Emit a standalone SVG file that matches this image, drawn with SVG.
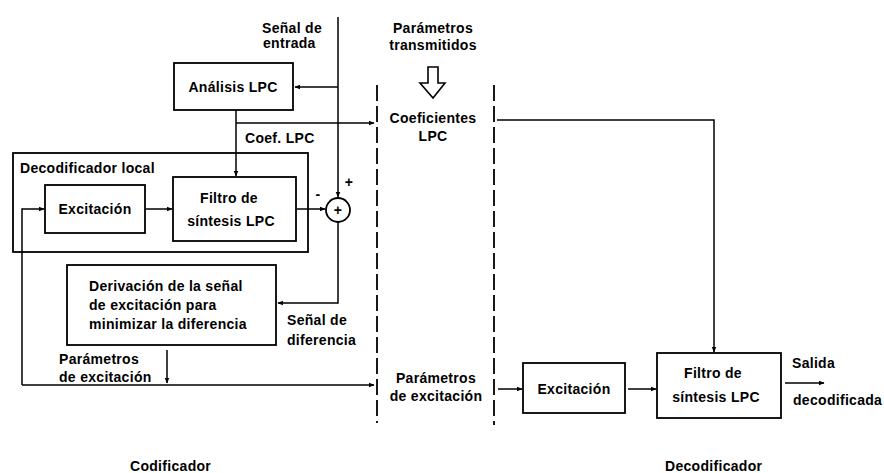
<svg xmlns="http://www.w3.org/2000/svg" width="884" height="473" viewBox="0 0 884 473">
<style>
text{font-family:"Liberation Sans",Arial,sans-serif;font-weight:bold;font-size:14px;fill:#000;letter-spacing:0.3px}
.c{text-anchor:middle}
.box{fill:none;stroke:#000;stroke-width:1.8}
.ln{fill:none;stroke:#000;stroke-width:1.5}
.dash{fill:none;stroke:#000;stroke-width:1.8;stroke-dasharray:16 5}
</style>
<defs>
<marker id="ah" viewBox="0 0 10 10" refX="9" refY="5" markerWidth="6" markerHeight="6" markerUnits="userSpaceOnUse" orient="auto">
<path d="M0,1 L10,5 L0,9 z" fill="#000"/>
</marker>
</defs>
<rect width="884" height="473" fill="#fff"/>

<g id="connectors">
<path class="ln" d="M338,17 V197" marker-end="url(#ah)"/>
<path class="ln" d="M338,87 H295" marker-end="url(#ah)"/>
<path class="ln" d="M236,110 V176" marker-end="url(#ah)"/>
<path class="ln" d="M236,123 H374" marker-end="url(#ah)"/>
<path class="ln" d="M146,209 H172" marker-end="url(#ah)"/>
<path class="ln" d="M297,209 H325" marker-end="url(#ah)"/>
<path class="ln" d="M338,222 V303 H278" marker-end="url(#ah)"/>
<path class="ln" d="M167,350 V383" marker-end="url(#ah)"/>
<path class="ln" d="M22,385 V209 H44" marker-end="url(#ah)"/>
<path class="ln" d="M22,385 H374" marker-end="url(#ah)"/>
<path class="ln" d="M497,120 H714 V352" marker-end="url(#ah)"/>
<path class="ln" d="M498,389 H522" marker-end="url(#ah)"/>
<path class="ln" d="M628,389 H656" marker-end="url(#ah)"/>
<path class="ln" d="M785,383 H824" marker-end="url(#ah)"/>
<path class="dash" d="M377,85 V423"/>
<path class="dash" d="M494,85 V425"/>
<path fill="#fff" stroke="#000" stroke-width="1.6" d="M428,67 H438 V83 H445 L433,98 L420,83 H428 Z"/>
</g>

<g id="input-label">
<text x="262" y="33">Señal de</text>
<text x="263" y="48">entrada</text>
</g>

<g id="analisis">
<rect class="box" x="174" y="63" width="119" height="47"/>
<text class="c" x="233" y="92">Análisis LPC</text>
</g>
<text x="245" y="143">Coef. LPC</text>

<g id="decodificador-local">
<rect class="box" x="13" y="153" width="295" height="99"/>
<text x="20" y="173">Decodificador local</text>
</g>

<g id="excitacion-enc">
<rect class="box" x="45" y="185" width="100" height="48"/>
<text class="c" x="95" y="214">Excitación</text>
</g>

<g id="filtro-enc">
<rect class="box" x="173" y="177" width="123" height="64"/>
<text class="c" x="229" y="203">Filtro de</text>
<text class="c" x="231" y="226">síntesis LPC</text>
</g>

<g id="sumador">
<circle cx="338" cy="210" r="12" fill="none" stroke="#000" stroke-width="1.8"/>
<text class="c" x="338" y="215">+</text>
<text class="c" x="349" y="187">+</text>
<text class="c" x="318" y="199">-</text>
</g>

<g id="derivacion">
<rect class="box" x="67" y="265" width="209" height="80"/>
<text x="89" y="291">Derivación de la señal</text>
<text x="89" y="310">de excitación para</text>
<text x="89" y="329">minimizar la diferencia</text>
</g>
<text x="287" y="325">Señal de</text>
<text x="287" y="345">diferencia</text>
<text x="59" y="364">Parámetros</text>
<text x="59" y="382">de excitación</text>

<g id="transmitidos">
<text class="c" x="433" y="33">Parámetros</text>
<text class="c" x="433" y="50">transmitidos</text>
<text class="c" x="433" y="123">Coeficientes</text>
<text class="c" x="433" y="141">LPC</text>
<text class="c" x="436" y="383">Parámetros</text>
<text class="c" x="436" y="401">de excitación</text>
</g>

<g id="excitacion-dec">
<rect class="box" x="523" y="363" width="102" height="50"/>
<text class="c" x="574" y="394">Excitación</text>
</g>

<g id="filtro-dec">
<rect class="box" x="657" y="353" width="124" height="65"/>
<text class="c" x="713" y="378">Filtro de</text>
<text class="c" x="716" y="402">síntesis LPC</text>
</g>
<text x="792" y="368">Salida</text>
<text x="793" y="405">decodificada</text>

<text x="130" y="471">Codificador</text>
<text x="665" y="471">Decodificador</text>
</svg>
